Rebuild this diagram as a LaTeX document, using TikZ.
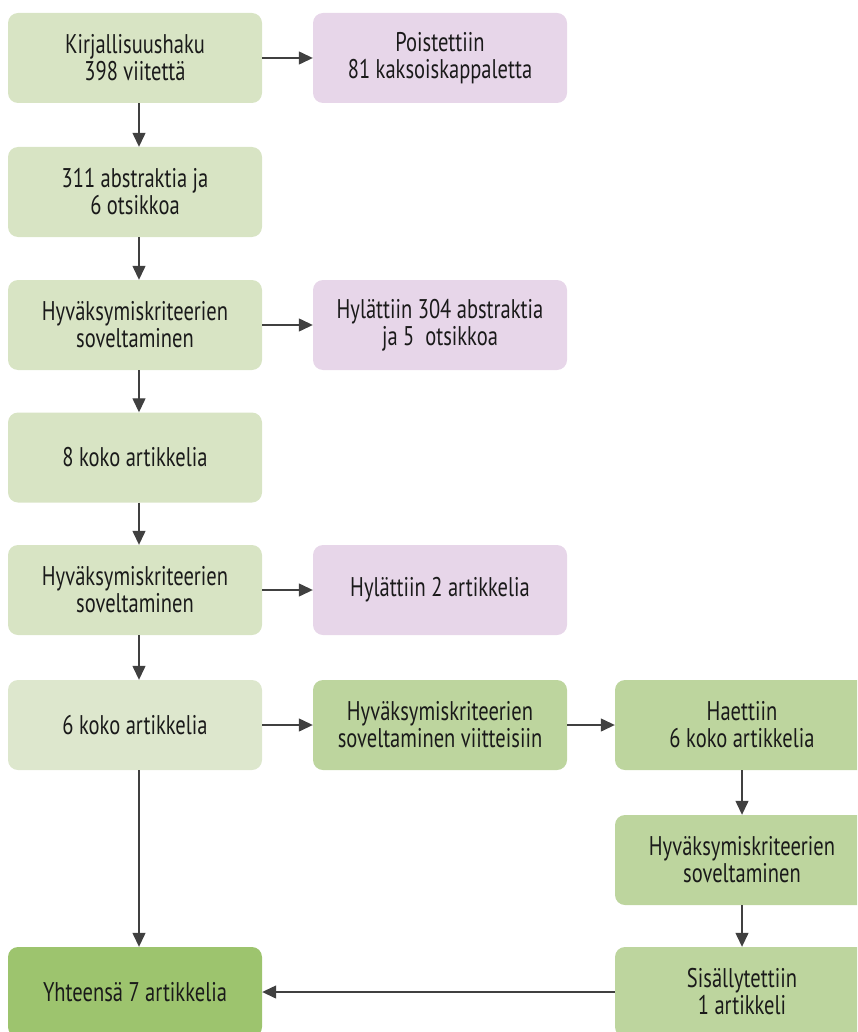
\documentclass[tikz,border=0pt]{standalone}
\usepackage{fontspec}
\setmainfont{PT Sans}[FakeStretch=0.76]
\usetikzlibrary{arrows.meta,calc}
\definecolor{boxlight}{RGB}{216,228,196}
\definecolor{boxpale}{RGB}{221,231,205}
\definecolor{boxmid}{RGB}{189,213,158}
\definecolor{boxdark}{RGB}{157,196,110}
\definecolor{boxpink}{RGB}{231,214,233}
\definecolor{arrowgray}{RGB}{64,64,64}
\definecolor{textdark}{RGB}{26,26,26}
\tikzset{
  flowbox/.style={rectangle, rounded corners=10pt, minimum width=254pt,
    minimum height=90pt, align=center, text=textdark, inner sep=0pt,
    font=\fontsize{27}{27}\selectfont},
  flow/.style={draw=arrowgray, line width=1.3pt,
    -{Triangle[length=14pt,width=13pt]}},
}
\begin{document}
\begin{tikzpicture}[x=1pt,y=-1pt]
\useasboundingbox (0,0) rectangle (857,1032);
\clip (0,0) rectangle (857,1032);
% left column
\node[flowbox, fill=boxlight] (haku) at (135,58) {Kirjallisuushaku\\398 viitettä};
\node[flowbox, fill=boxlight] (abs) at (135,192) {311 abstraktia ja\\6 otsikkoa};
\node[flowbox, fill=boxlight] (krit1) at (135,325) {Hyväksymiskriteerien\\soveltaminen};
\node[flowbox, fill=boxlight] (koko8) at (135,457.5) {8 koko artikkelia};
\node[flowbox, fill=boxlight] (krit2) at (135,590) {Hyväksymiskriteerien\\soveltaminen};
\node[flowbox, fill=boxpale] (koko6) at (135,725) {6 koko artikkelia};
\node[flowbox, fill=boxdark] (yht) at (135,992) {Yhteensä 7 artikkelia};
% excluded records
\node[flowbox, fill=boxpink] (dup) at (440,58) {Poistettiin\\81 kaksoiskappaletta};
\node[flowbox, fill=boxpink] (hyl1) at (440,325) {Hylättiin 304 abstraktia\\ja 5\ \ otsikkoa};
\node[flowbox, fill=boxpink] (hyl2) at (440,590) {Hylättiin 2 artikkelia};
% reference search branch
\node[flowbox, fill=boxmid] (viit) at (440,725) {Hyväksymiskriteerien\\soveltaminen viitteisiin};
\node[flowbox, fill=boxmid] (haet) at (742,725) {Haettiin\\6 koko artikkelia};
\node[flowbox, fill=boxmid] (krit3) at (742,860) {Hyväksymiskriteerien\\soveltaminen};
\node[flowbox, fill=boxmid] (sis) at (742,992) {Sisällytettiin\\1 artikkeli};
% connectors
\draw[flow] (haku.east) -- (dup.west);
\draw[flow] ($(haku.south)+(4,0)$) -- ($(abs.north)+(4,0)$);
\draw[flow] ($(abs.south)+(4,0)$) -- ($(krit1.north)+(4,0)$);
\draw[flow] (krit1.east) -- (hyl1.west);
\draw[flow] ($(krit1.south)+(4,0)$) -- ($(koko8.north)+(4,0)$);
\draw[flow] ($(koko8.south)+(4,0)$) -- ($(krit2.north)+(4,0)$);
\draw[flow] (krit2.east) -- (hyl2.west);
\draw[flow] ($(krit2.south)+(4,0)$) -- ($(koko6.north)+(4,0)$);
\draw[flow] (koko6.east) -- (viit.west);
\draw[flow] (viit.east) -- (haet.west);
\draw[flow] ($(koko6.south)+(4,0)$) -- ($(yht.north)+(4,0)$);
\draw[flow] (haet.south) -- (krit3.north);
\draw[flow] (krit3.south) -- (sis.north);
\draw[flow] (sis.west) -- (yht.east);
\end{tikzpicture}
\end{document}
